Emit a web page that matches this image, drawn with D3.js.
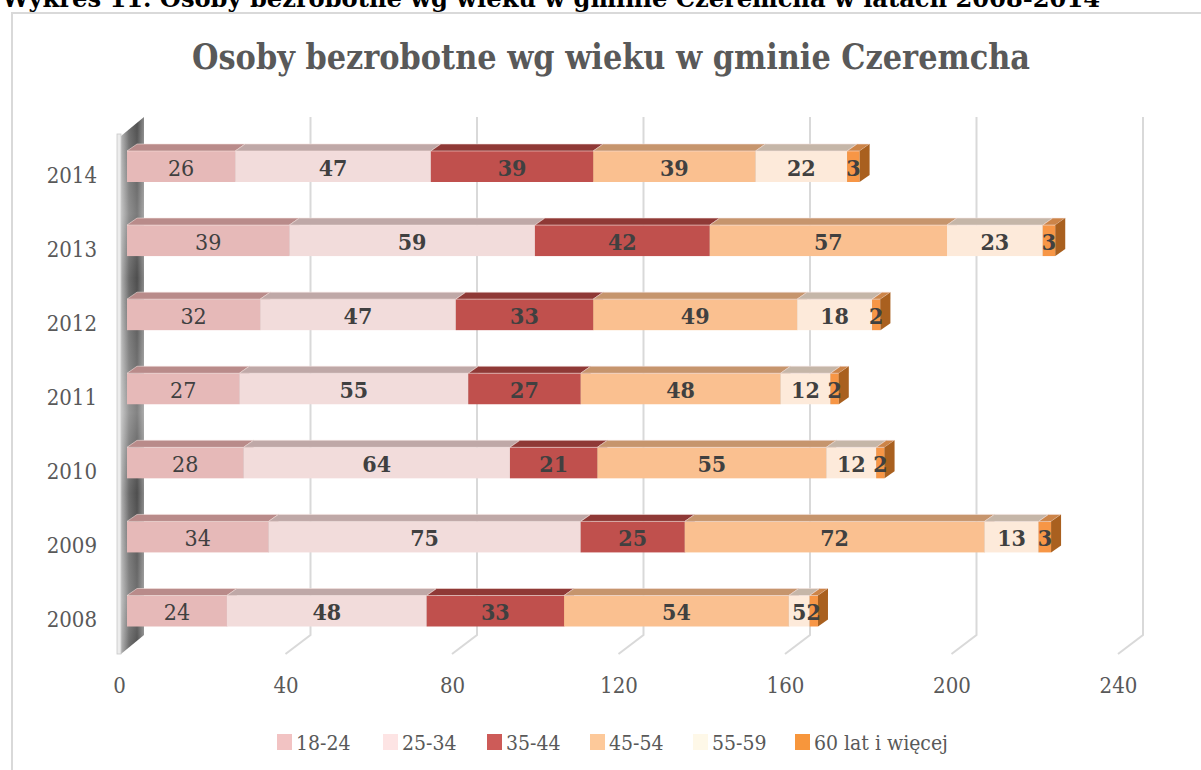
<!DOCTYPE html>
<html lang="pl">
<head>
<meta charset="UTF-8">
<script src="https://cdn.jsdelivr.net/npm/d3@7"></script>
<style>
  html, body { margin: 0; padding: 0; background: #fff; }
  svg { display: block; }
  text { font-stretch: condensed; }
</style>
</head>
<body>
<svg id="chart" width="1201" height="770"></svg>
<script>
// dane
var years = ["2014", "2013", "2012", "2011", "2010", "2009", "2008"];
var groups = ["18-24", "25-34", "35-44", "45-54", "55-59", "60 lat i więcej"];
var g1824 = [26, 39, 32, 27, 28, 34, 24];
var g2534 = [47, 59, 47, 55, 64, 75, 48];
var g3544 = [39, 42, 33, 27, 21, 25, 33];
var g4554 = [39, 57, 49, 48, 55, 72, 54];
var g5559 = [22, 23, 18, 12, 12, 13, 5];
var g60 = [3, 3, 2, 2, 2, 3, 2];
var xTicks = [0, 40, 80, 120, 160, 200, 240];

var series = [g1824, g2534, g3544, g4554, g5559, g60];

// kolory
var frontColors = ["#e6b9b8", "#f2dcdb", "#c0504d", "#fac090", "#fdeada", "#f79646"];
var topColors = ["#b98b8a", "#bfa8a7", "#8f3936", "#c6956d", "#c5b6a8", "#cc8448"];
var sideColors = ["#b58a89", "#bca6a5", "#8a3532", "#c08e66", "#c2b3a5", "#a9601f"];
var legendColors = ["#f2c3c3", "#fde4e4", "#cd5b58", "#fdc99a", "#fef8e8", "#f7963c"];

var rows = years.map(function (y, i) {
  var r = { year: y };
  groups.forEach(function (g, k) { r[g] = series[k][i]; });
  return r;
});
var stacked = d3.stack().keys(groups)(rows);

var svg = d3.select("#chart");
var serif = "'DejaVu Serif Condensed', 'DejaVu Serif', 'Liberation Serif', serif";

// ramka i naglowek
svg.append("text")
  .attr("x", 2).attr("y", 7)
  .attr("textLength", 1098).attr("lengthAdjust", "spacingAndGlyphs")
  .style("font-family", serif).style("font-weight", "bold").style("font-size", "24px")
  .attr("fill", "#000")
  .text("Wykres 11. Osoby bezrobotne wg wieku w gminie Czeremcha w latach 2008-2014");

svg.append("path")
  .attr("d", "M12,770 V13 H1201")
  .attr("fill", "none").attr("stroke", "#d9d9d9").attr("stroke-width", 2);

svg.append("text")
  .attr("x", 611).attr("y", 69)
  .attr("text-anchor", "middle")
  .attr("textLength", 838).attr("lengthAdjust", "spacingAndGlyphs")
  .style("font-family", serif).style("font-weight", "bold").style("font-size", "36px")
  .attr("fill", "#595959")
  .text("Osoby bezrobotne wg wieku w gminie Czeremcha");

// skale
var x = d3.scaleLinear().domain([0, 240]).range([127, 1126]);
var y = d3.scalePoint().domain(years).range([166.5, 611]);
var barH = 31;
var dx = 10, dy = -7;          // glebokosc slupka
var DX = 25, DY = -19;         // glebokosc wykresu
var backOff = 17, frontOff = -8;
var gridTop = 117, floorBack = 635;

// siatka
svg.append("g").selectAll("path")
  .data(xTicks.filter(function (d) { return d > 0; }))
  .join("path")
  .attr("d", function (d) {
    var xb = x(d) + backOff;
    return "M" + xb + "," + gridTop + " V" + floorBack + " L" + (xb - DX) + "," + (floorBack - DY);
  })
  .attr("fill", "none").attr("stroke", "#d9d9d9").attr("stroke-width", 2);

// sciana
var defs = svg.append("defs");
var wg = defs.append("linearGradient").attr("id", "wall").attr("x1", 0).attr("x2", 1).attr("y1", 0).attr("y2", 0);
wg.append("stop").attr("offset", "0%").attr("stop-color", "#b4b4b4");
wg.append("stop").attr("offset", "35%").attr("stop-color", "#6a6a6a");
wg.append("stop").attr("offset", "70%").attr("stop-color", "#4e4e4e");
wg.append("stop").attr("offset", "100%").attr("stop-color", "#8a8a8a");
var wv = defs.append("linearGradient").attr("id", "wallv").attr("x1", 0).attr("x2", 0).attr("y1", 0).attr("y2", 1);
[["0%", 0.0], ["18%", 0.25], ["30%", 0.0], ["55%", 0.3], ["70%", 0.0], ["90%", 0.2], ["100%", 0.0]].forEach(function (s) {
  wv.append("stop").attr("offset", s[0]).attr("stop-color", "#fff").attr("stop-opacity", s[1]);
});
var wx0 = x(0) + frontOff + 2;
var wallPts = [[wx0, gridTop - DY], [wx0 + DX - 2, gridTop], [wx0 + DX - 2, floorBack], [wx0, floorBack - DY]];
svg.append("polygon").attr("points", wallPts.join(" ")).attr("fill", "url(#wall)");
svg.append("polygon").attr("points", wallPts.join(" ")).attr("fill", "url(#wallv)");
svg.append("rect")
  .attr("x", wx0 - 4).attr("y", gridTop - DY - 2).attr("width", 4).attr("height", floorBack - gridTop + 2)
  .attr("fill", "#ececec").attr("stroke", "#c8c8c8").attr("stroke-width", 0.8);

// slupki
var bars = svg.append("g");
stacked.forEach(function (s, k) {
  var g = bars.append("g");
  g.selectAll(".front").data(s).join("rect")
    .attr("x", function (d) { return x(d[0]); })
    .attr("y", function (d) { return y(d.data.year) - barH / 2; })
    .attr("width", function (d) { return x(d[1]) - x(d[0]); })
    .attr("height", barH)
    .attr("fill", frontColors[k]);
  g.selectAll(".top").data(s).join("polygon")
    .attr("points", function (d) {
      var yt = y(d.data.year) - barH / 2, a = x(d[0]), b = x(d[1]);
      return [[a, yt], [a + dx, yt + dy], [b + dx, yt + dy], [b, yt]].join(" ");
    })
    .attr("fill", topColors[k])
    .attr("stroke", "#f6e4e0").attr("stroke-width", 0.8).attr("stroke-opacity", 0.7);
  g.selectAll(".side").data(s).join("polygon")
    .attr("points", function (d) {
      var yt = y(d.data.year) - barH / 2, b = x(d[1]);
      return [[b, yt], [b + dx, yt + dy], [b + dx, yt + barH + dy], [b, yt + barH]].join(" ");
    })
    .attr("fill", sideColors[k]);
});

// etykiety danych
var labels = svg.append("g")
  .style("font-family", serif).style("font-size", "23px").attr("fill", "#404040")
  .attr("text-anchor", "middle");
stacked.forEach(function (s, k) {
  labels.append("g").selectAll("text").data(s).join("text")
    .attr("x", function (d) { return (x(d[0]) + x(d[1])) / 2; })
    .attr("y", function (d) { return y(d.data.year) + 9; })
    .style("font-weight", k === 0 ? "normal" : "bold")
    .text(function (d) { return d[1] - d[0]; });
});

// os Y
svg.append("g").selectAll("text").data(years).join("text")
  .attr("x", 97).attr("y", function (d) { return y(d) + 16; })
  .attr("text-anchor", "end")
  .style("font-family", serif).style("font-size", "22px").attr("fill", "#595959")
  .text(function (d) { return d; });

// os X
var xFront = x.copy().range([x(0) + frontOff, x(240) + frontOff]);
var xAxis = svg.append("g").attr("transform", "translate(0,675)")
  .call(d3.axisBottom(xFront).tickValues(xTicks).tickSize(0).tickPadding(0));
xAxis.select(".domain").remove();
xAxis.selectAll("text")
  .attr("dy", "0.8em")
  .style("font-family", serif).style("font-size", "22px").attr("fill", "#595959");

// legenda
var legX = [277, 383, 487, 590, 693, 795];
var leg = svg.append("g").selectAll("g").data(groups).join("g")
  .attr("transform", function (d, i) { return "translate(" + legX[i] + ",742)"; });
leg.append("rect")
  .attr("x", 0).attr("y", -8).attr("width", 15).attr("height", 16)
  .attr("fill", function (d, i) { return legendColors[i]; });
leg.append("text")
  .attr("x", 19).attr("y", 8)
  .style("font-family", serif).style("font-size", "21px").attr("fill", "#595959")
  .text(function (d) { return d; });
</script>
</body>
</html>
